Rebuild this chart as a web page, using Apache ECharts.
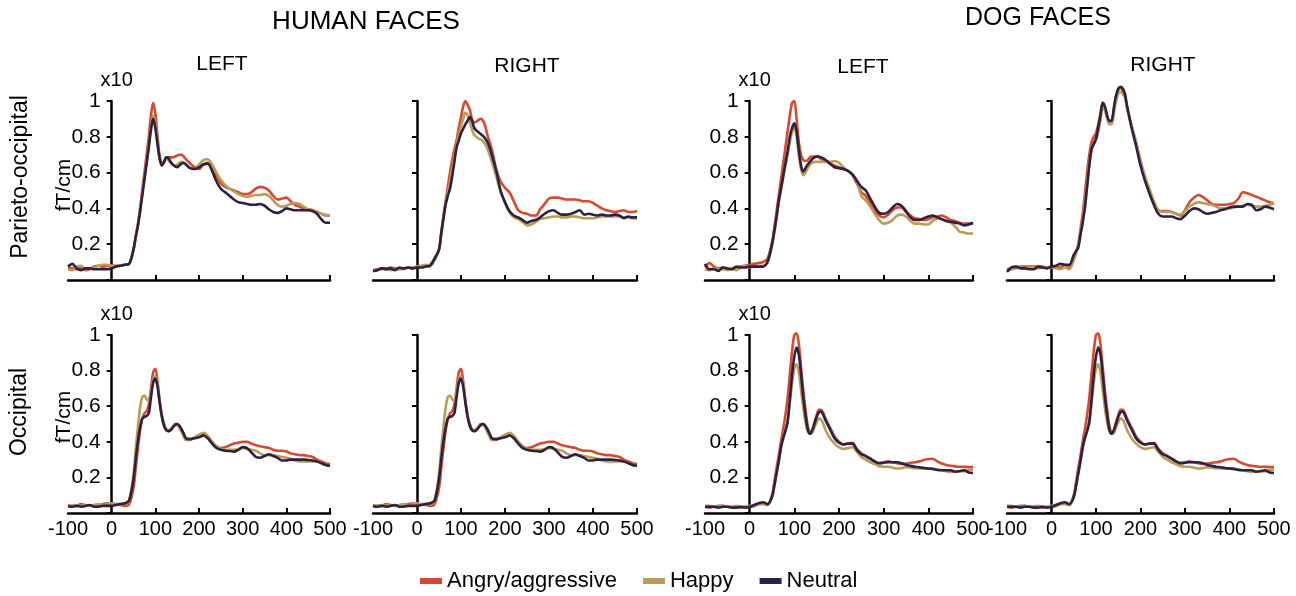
<!DOCTYPE html>
<html lang="en">
<head>
<meta charset="UTF-8">
<title>MEG responses to human and dog faces</title>
<script src="https://cdn.jsdelivr.net/npm/echarts@6.0.0/dist/echarts.min.js"></script>
<style>
  html, body { margin: 0; padding: 0; background: #fff; }
  #chart { width: 1296px; height: 596px; }
</style>
</head>
<body>
<div id="chart"></div>
<script>
// time points (ms): 10 ms steps, 5 ms around the peaks
var T = [-100,-90,-80,-70,-60,-50,-40,-30,-20,-10,0,10,20,30,40,50,
  55,60,65,70,75,80,85,90,95,100,105,110,115,120,125,130,135,140,145,150,155,160,165,170,
  180,190,200,210,220,230,240,250,260,270,280,290,300,310,320,330,340,350,360,370,380,390,400,410,420,430,440,450,460,470,480,490,500];

var conditions = ['Angry/aggressive', 'Happy', 'Neutral'];
var xTicks = [100, 200, 300, 400, 500];

// Parieto-occipital, human faces, left
var poHumanLeftAngry = [0.07,0.065,0.06,0.07,0.055,0.06,0.075,0.08,0.075,0.08,0.08,0.08,0.08,0.085,0.09,0.17,
  0.24,0.31,0.40,0.50,0.60,0.70,0.80,0.92,0.99,0.93,0.80,0.69,0.65,0.66,0.68,0.685,0.685,0.685,0.69,0.695,0.70,0.70,0.69,0.675,
  0.65,0.63,0.62,0.645,0.655,0.62,0.575,0.54,0.52,0.51,0.50,0.49,0.48,0.48,0.49,0.51,0.52,0.515,0.50,0.47,0.45,0.455,0.46,0.44,0.42,0.41,0.40,0.395,0.39,0.38,0.37,0.36,0.36];
var poHumanLeftHappy = [0.06,0.055,0.075,0.08,0.06,0.065,0.07,0.08,0.085,0.085,0.08,0.075,0.08,0.085,0.09,0.17,
  0.24,0.31,0.39,0.48,0.57,0.66,0.75,0.85,0.92,0.87,0.76,0.67,0.64,0.655,0.68,0.67,0.655,0.645,0.64,0.645,0.655,0.66,0.655,0.645,
  0.625,0.62,0.645,0.67,0.675,0.645,0.60,0.56,0.53,0.51,0.495,0.48,0.47,0.465,0.47,0.475,0.475,0.48,0.47,0.445,0.42,0.41,0.415,0.425,0.43,0.425,0.41,0.395,0.385,0.375,0.37,0.365,0.36];
var poHumanLeftNeutral = [0.075,0.09,0.065,0.055,0.065,0.065,0.06,0.06,0.06,0.06,0.065,0.075,0.08,0.085,0.09,0.17,
  0.24,0.30,0.38,0.47,0.56,0.65,0.74,0.84,0.90,0.85,0.76,0.68,0.64,0.66,0.685,0.68,0.66,0.645,0.635,0.63,0.64,0.65,0.655,0.645,
  0.625,0.62,0.63,0.645,0.65,0.61,0.55,0.51,0.49,0.47,0.45,0.435,0.43,0.425,0.42,0.42,0.425,0.415,0.395,0.38,0.375,0.385,0.40,0.395,0.39,0.39,0.39,0.39,0.385,0.37,0.34,0.32,0.32];

// Parieto-occipital, human faces, right
var poHumanRightAngry = [0.055,0.06,0.065,0.065,0.07,0.065,0.06,0.065,0.07,0.065,0.075,0.075,0.08,0.085,0.12,0.17,
  0.26,0.36,0.44,0.52,0.60,0.67,0.73,0.78,0.85,0.91,0.97,1.0,0.98,0.95,0.90,0.88,0.885,0.895,0.90,0.89,0.86,0.81,0.77,0.73,
  0.62,0.55,0.515,0.49,0.44,0.39,0.375,0.37,0.36,0.36,0.395,0.425,0.455,0.46,0.46,0.455,0.45,0.45,0.45,0.445,0.44,0.44,0.43,0.415,0.40,0.39,0.385,0.38,0.385,0.39,0.38,0.38,0.385];
var poHumanRightHappy = [0.05,0.055,0.06,0.06,0.055,0.06,0.065,0.06,0.07,0.07,0.075,0.08,0.085,0.08,0.11,0.17,
  0.26,0.35,0.43,0.49,0.55,0.62,0.69,0.76,0.81,0.86,0.90,0.935,0.92,0.88,0.84,0.81,0.80,0.79,0.785,0.775,0.76,0.735,0.70,0.66,
  0.58,0.49,0.43,0.38,0.35,0.34,0.325,0.305,0.31,0.325,0.34,0.345,0.35,0.355,0.355,0.35,0.35,0.355,0.355,0.35,0.345,0.345,0.345,0.35,0.355,0.355,0.355,0.355,0.355,0.35,0.35,0.345,0.345];
var poHumanRightNeutral = [0.05,0.055,0.065,0.06,0.065,0.055,0.07,0.065,0.07,0.065,0.07,0.07,0.075,0.08,0.12,0.17,
  0.26,0.34,0.42,0.47,0.51,0.58,0.66,0.74,0.78,0.82,0.845,0.87,0.89,0.91,0.89,0.85,0.835,0.825,0.815,0.805,0.79,0.77,0.74,0.70,
  0.61,0.50,0.435,0.385,0.36,0.35,0.335,0.32,0.33,0.335,0.35,0.37,0.385,0.39,0.375,0.365,0.365,0.37,0.38,0.39,0.365,0.37,0.365,0.36,0.365,0.36,0.36,0.365,0.36,0.345,0.355,0.35,0.35];

// Parieto-occipital, dog faces, left
var poDogLeftAngry = [0.07,0.095,0.075,0.065,0.07,0.06,0.065,0.07,0.075,0.08,0.085,0.09,0.095,0.10,0.12,0.21,
  0.29,0.38,0.47,0.56,0.65,0.74,0.83,0.92,0.99,1.0,0.90,0.77,0.70,0.67,0.665,0.67,0.685,0.69,0.69,0.69,0.685,0.675,0.67,0.665,
  0.65,0.64,0.63,0.62,0.61,0.585,0.54,0.49,0.47,0.43,0.39,0.36,0.35,0.365,0.39,0.405,0.405,0.38,0.36,0.345,0.34,0.335,0.34,0.35,0.355,0.36,0.35,0.335,0.33,0.32,0.315,0.315,0.315];
var poDogLeftHappy = [0.06,0.055,0.065,0.06,0.06,0.055,0.065,0.055,0.07,0.08,0.07,0.075,0.08,0.08,0.10,0.19,
  0.26,0.34,0.43,0.50,0.57,0.64,0.70,0.77,0.83,0.855,0.80,0.70,0.62,0.585,0.60,0.625,0.645,0.655,0.66,0.66,0.66,0.66,0.66,0.66,
  0.66,0.665,0.655,0.63,0.61,0.59,0.555,0.47,0.445,0.41,0.37,0.335,0.315,0.32,0.335,0.36,0.365,0.355,0.33,0.315,0.315,0.31,0.31,0.33,0.345,0.34,0.33,0.32,0.30,0.27,0.265,0.26,0.26];
var poDogLeftNeutral = [0.09,0.06,0.06,0.05,0.07,0.065,0.06,0.075,0.07,0.07,0.075,0.075,0.075,0.075,0.10,0.20,
  0.27,0.35,0.44,0.51,0.58,0.65,0.72,0.80,0.85,0.875,0.83,0.73,0.64,0.605,0.625,0.645,0.66,0.675,0.685,0.69,0.69,0.685,0.68,0.67,
  0.65,0.63,0.625,0.62,0.61,0.59,0.555,0.52,0.50,0.455,0.41,0.375,0.37,0.38,0.405,0.425,0.415,0.385,0.35,0.335,0.335,0.345,0.355,0.36,0.35,0.34,0.33,0.325,0.32,0.315,0.305,0.31,0.32];

// Parieto-occipital, dog faces, right
var poDogRightAngry = [0.06,0.065,0.07,0.075,0.075,0.075,0.075,0.075,0.075,0.07,0.075,0.07,0.07,0.085,0.07,0.12,
  0.16,0.20,0.28,0.37,0.48,0.60,0.70,0.77,0.80,0.82,0.87,0.93,0.99,0.96,0.91,0.875,0.88,0.95,1.02,1.06,1.07,1.06,1.03,0.96,
  0.86,0.77,0.66,0.57,0.50,0.43,0.39,0.385,0.385,0.38,0.37,0.36,0.39,0.435,0.46,0.475,0.465,0.445,0.425,0.42,0.42,0.42,0.425,0.43,0.455,0.49,0.485,0.475,0.465,0.455,0.445,0.435,0.43];
var poDogRightHappy = [0.05,0.06,0.065,0.07,0.065,0.07,0.07,0.065,0.07,0.07,0.07,0.065,0.06,0.07,0.06,0.11,
  0.15,0.19,0.26,0.34,0.43,0.54,0.65,0.73,0.76,0.78,0.83,0.89,0.96,0.95,0.90,0.87,0.87,0.93,1.0,1.04,1.05,1.04,1.02,0.96,
  0.86,0.77,0.67,0.58,0.51,0.44,0.39,0.38,0.38,0.38,0.37,0.365,0.385,0.41,0.425,0.435,0.43,0.425,0.42,0.41,0.40,0.40,0.40,0.405,0.41,0.415,0.42,0.415,0.41,0.41,0.415,0.42,0.43];
var poDogRightNeutral = [0.045,0.07,0.075,0.065,0.065,0.06,0.06,0.075,0.07,0.065,0.075,0.08,0.09,0.085,0.085,0.14,
  0.16,0.18,0.25,0.32,0.40,0.52,0.64,0.73,0.76,0.79,0.85,0.92,0.99,0.97,0.92,0.89,0.89,0.96,1.03,1.07,1.08,1.07,1.04,0.97,
  0.85,0.75,0.64,0.555,0.485,0.42,0.37,0.355,0.355,0.355,0.345,0.34,0.36,0.385,0.40,0.395,0.38,0.37,0.375,0.38,0.39,0.395,0.405,0.41,0.41,0.41,0.425,0.42,0.39,0.395,0.41,0.405,0.395];

// Occipital, human faces (left and right panels look the same in the figure)
var ocHumanAngry = [0.04,0.04,0.04,0.05,0.045,0.04,0.045,0.045,0.05,0.055,0.05,0.05,0.045,0.04,0.05,0.14,
  0.25,0.36,0.46,0.53,0.56,0.57,0.61,0.70,0.79,0.81,0.74,0.63,0.55,0.50,0.47,0.465,0.47,0.485,0.50,0.50,0.49,0.47,0.44,0.42,
  0.415,0.425,0.435,0.44,0.43,0.40,0.375,0.365,0.37,0.38,0.39,0.395,0.40,0.40,0.39,0.38,0.375,0.37,0.365,0.355,0.35,0.35,0.345,0.335,0.33,0.325,0.325,0.32,0.315,0.30,0.29,0.28,0.275];
var ocHumanHappy = [0.045,0.04,0.045,0.04,0.045,0.04,0.045,0.05,0.045,0.05,0.055,0.05,0.05,0.05,0.07,0.22,
  0.36,0.48,0.59,0.65,0.66,0.64,0.63,0.68,0.75,0.77,0.72,0.62,0.54,0.49,0.465,0.46,0.47,0.485,0.495,0.495,0.48,0.455,0.43,0.41,
  0.41,0.425,0.44,0.45,0.435,0.40,0.37,0.36,0.355,0.355,0.355,0.36,0.365,0.36,0.355,0.35,0.335,0.325,0.325,0.325,0.32,0.315,0.31,0.305,0.295,0.29,0.29,0.29,0.29,0.29,0.28,0.27,0.265];
var ocHumanNeutral = [0.04,0.035,0.04,0.035,0.04,0.045,0.035,0.035,0.04,0.04,0.04,0.045,0.05,0.055,0.07,0.19,
  0.30,0.40,0.48,0.53,0.54,0.545,0.56,0.65,0.73,0.755,0.71,0.62,0.54,0.49,0.465,0.46,0.465,0.48,0.495,0.50,0.49,0.47,0.445,0.42,
  0.415,0.42,0.425,0.435,0.42,0.39,0.365,0.355,0.35,0.348,0.345,0.355,0.37,0.365,0.34,0.315,0.31,0.32,0.33,0.32,0.31,0.295,0.295,0.30,0.30,0.30,0.30,0.298,0.295,0.29,0.28,0.27,0.265];

// Occipital, dog faces (left and right panels look the same in the figure)
var ocDogAngry = [0.035,0.03,0.035,0.04,0.04,0.035,0.035,0.035,0.03,0.035,0.035,0.04,0.05,0.055,0.045,0.10,
  0.17,0.25,0.32,0.40,0.47,0.55,0.65,0.78,0.91,1.0,1.01,0.95,0.82,0.69,0.58,0.49,0.455,0.46,0.51,0.55,0.58,0.58,0.56,0.53,
  0.48,0.43,0.40,0.385,0.39,0.395,0.36,0.335,0.32,0.305,0.29,0.28,0.283,0.29,0.285,0.28,0.275,0.278,0.282,0.285,0.29,0.298,0.303,0.305,0.29,0.278,0.27,0.265,0.262,0.26,0.26,0.258,0.258];
var ocDogHappy = [0.04,0.04,0.035,0.035,0.04,0.035,0.035,0.04,0.035,0.035,0.04,0.045,0.05,0.05,0.045,0.09,
  0.15,0.22,0.29,0.36,0.42,0.47,0.53,0.62,0.73,0.81,0.835,0.79,0.69,0.59,0.51,0.46,0.445,0.45,0.48,0.51,0.53,0.525,0.50,0.465,
  0.42,0.39,0.37,0.36,0.365,0.37,0.345,0.315,0.30,0.285,0.275,0.262,0.26,0.26,0.255,0.25,0.252,0.257,0.255,0.252,0.25,0.25,0.25,0.25,0.245,0.24,0.235,0.23,0.232,0.235,0.235,0.24,0.243];
var ocDogNeutral = [0.035,0.035,0.035,0.03,0.035,0.035,0.03,0.03,0.035,0.03,0.035,0.045,0.055,0.06,0.05,0.09,
  0.15,0.22,0.29,0.37,0.42,0.46,0.51,0.64,0.78,0.88,0.93,0.89,0.78,0.65,0.55,0.47,0.445,0.465,0.50,0.54,0.565,0.57,0.55,0.52,
  0.47,0.42,0.395,0.385,0.39,0.39,0.355,0.33,0.32,0.305,0.29,0.28,0.283,0.285,0.285,0.285,0.28,0.27,0.265,0.26,0.257,0.253,0.25,0.247,0.242,0.24,0.24,0.24,0.232,0.235,0.24,0.228,0.225];

var panels = [
  [poHumanLeftAngry, poHumanLeftHappy, poHumanLeftNeutral],
  [poHumanRightAngry, poHumanRightHappy, poHumanRightNeutral],
  [poDogLeftAngry, poDogLeftHappy, poDogLeftNeutral],
  [poDogRightAngry, poDogRightHappy, poDogRightNeutral],
  [ocHumanAngry, ocHumanHappy, ocHumanNeutral],
  [ocHumanAngry, ocHumanHappy, ocHumanNeutral],
  [ocDogAngry, ocDogHappy, ocDogNeutral],
  [ocDogAngry, ocDogHappy, ocDogNeutral]
];

var colors = ['#d6492f', '#b79d58', '#2c2140'];
var FONT = 'Liberation Sans, Arial, sans-serif';

// panel boxes: columns by x, rows by y
var colBox = [[68, 262], [373, 264], [705, 268], [1007, 267]];
var rowBox = [[101, 179], [335, 178]];

var grids = [], xAxes = [], yAxes = [], series = [];
panels.forEach(function (p, i) {
  var col = i % 4, row = Math.floor(i / 4);
  var leftCol = (col === 0 || col === 2);
  grids.push({ left: colBox[col][0], width: colBox[col][1], top: rowBox[row][0], height: rowBox[row][1] });
  xAxes.push({
    type: 'value', gridIndex: i, min: -100, max: 500, interval: 100,
    axisLine: { lineStyle: { color: '#000', width: 2.5 } },
    axisTick: { inside: true, length: 5, customValues: xTicks, lineStyle: { color: '#000', width: 2 } },
    axisLabel: { show: row === 1, color: '#000', fontSize: 20, fontFamily: FONT, margin: 6 },
    splitLine: { show: false }
  });
  // y axis drawn at t = 0: shift it right by one sixth of the panel width
  yAxes.push({
    type: 'value', gridIndex: i, min: 0, max: 1, interval: 0.2,
    position: 'left', offset: -colBox[col][1] / 6,
    name: leftCol ? 'x10' : '', nameLocation: 'end', nameGap: 2,
    nameTextStyle: { color: '#000', fontSize: 20, fontFamily: FONT, padding: [0, 0, 0, 10] },
    axisLine: { onZero: false, lineStyle: { color: '#000', width: 2.5 } },
    axisTick: { length: 5, lineStyle: { color: '#000', width: 2 } },
    axisLabel: {
      show: leftCol, color: '#000', fontSize: 21, fontFamily: FONT, margin: 11,
      formatter: function (v) { return v === 0 ? '' : String(+v.toFixed(1)); }
    },
    splitLine: { show: false }
  });
  p.forEach(function (arr, k) {
    series.push({
      name: conditions[k], type: 'line', xAxisIndex: i, yAxisIndex: i,
      data: T.map(function (t, j) { return [t, arr[j]]; }),
      showSymbol: false, smooth: 0.3, clip: false,
      lineStyle: { color: colors[k], width: 2.6 },
      itemStyle: { color: colors[k] },
      emphasis: { disabled: true }, z: 2 + k
    });
  });
});

function label(text, x, y, size, rot) {
  return {
    type: 'text', x: x, y: y, rotation: rot || 0,
    style: { text: text, fontSize: size, fontFamily: FONT, fill: '#000',
      align: 'center', verticalAlign: 'middle', textAlign: 'center', textVerticalAlign: 'middle' }
  };
}

var chart = echarts.init(document.getElementById('chart'));
chart.setOption({
  animation: false,
  grid: grids,
  xAxis: xAxes,
  yAxis: yAxes,
  series: series,
  legend: {
    data: conditions, left: 415, top: 565, icon: 'rect',
    itemWidth: 22, itemHeight: 6, itemGap: 26,
    textStyle: { fontSize: 22, fontFamily: FONT, color: '#000' }
  },
  graphic: [
    label('HUMAN FACES', 366, 22, 26),
    label('DOG FACES', 1038, 18, 25),
    label('LEFT', 222, 64, 21),
    label('RIGHT', 527, 66, 21),
    label('LEFT', 863, 67, 21),
    label('RIGHT', 1163, 65, 21),
    label('Parieto-occipital', 21, 177, 23, Math.PI / 2),
    label('Occipital', 20, 412, 23, Math.PI / 2),
    label('fT/cm', 64, 185, 21, Math.PI / 2),
    label('fT/cm', 64, 417, 21, Math.PI / 2)
  ]
});
</script>
</body>
</html>
